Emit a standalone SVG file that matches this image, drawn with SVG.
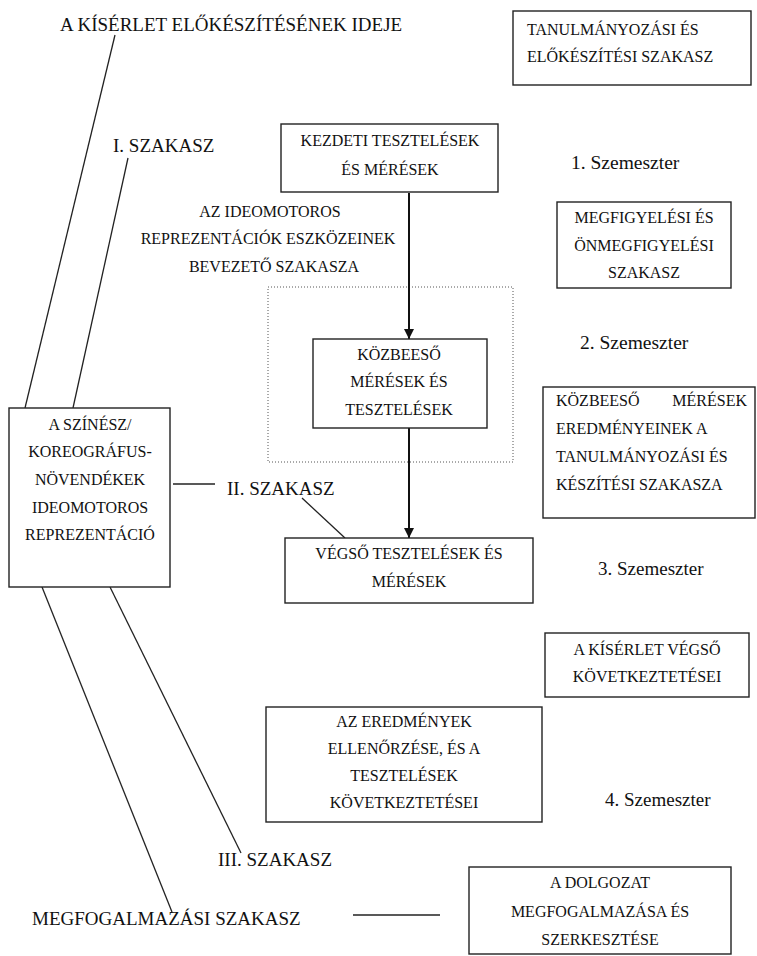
<svg xmlns="http://www.w3.org/2000/svg" width="757" height="956" viewBox="0 0 757 956">
<defs>
<style>
text{font-family:"Liberation Serif","Times New Roman",serif;fill:#111;}
.big{font-size:19px;}
.sem{font-size:19.5px;}
.box{fill:#fff;stroke:#222;stroke-width:1.4;}
.bt{font-size:16px;text-anchor:middle;}
.bl{font-size:16px;}
.ln{stroke:#222;stroke-width:1.3;fill:none;}
.arr{stroke:#111;stroke-width:2;fill:none;}
</style>
<marker id="ah" viewBox="0 0 10 10" refX="10" refY="5" markerWidth="5" markerHeight="5" markerUnits="strokeWidth" orient="auto">
<path d="M0,0 L10,5 L0,10 z" fill="#111"/>
</marker>
</defs>
<rect width="757" height="956" fill="#fff"/>

<g id="labels">
<text class="big" x="60" y="31">A KÍSÉRLET ELŐKÉSZÍTÉSÉNEK IDEJE</text>
<text class="big" x="113" y="152">I. SZAKASZ</text>
<text class="big" x="227" y="495">II. SZAKASZ</text>
<text class="big" x="218" y="866">III. SZAKASZ</text>
<text class="big" x="32" y="925">MEGFOGALMAZÁSI SZAKASZ</text>
<text class="sem" x="571" y="169">1. Szemeszter</text>
<text class="sem" x="580" y="349">2. Szemeszter</text>
<text class="big" x="598" y="575">3. Szemeszter</text>
<text class="big" x="605" y="806">4. Szemeszter</text>
</g>

<g id="ideomotoros-label">
<text class="bt" x="270" y="217">AZ IDEOMOTOROS</text>
<text class="bt" x="268" y="244">REPREZENTÁCIÓK ESZKÖZEINEK</text>
<text class="bt" x="274" y="272">BEVEZETŐ SZAKASZA</text>
</g>

<g id="dotted-frame">
<rect x="268" y="287" width="245" height="175" fill="none" stroke="#555" stroke-width="1" stroke-dasharray="1 2"/>
</g>

<g id="connectors">
<line class="ln" x1="115" y1="35" x2="25" y2="408"/>
<line class="ln" x1="128" y1="158" x2="73" y2="408"/>
<line class="ln" x1="173" y1="484" x2="215" y2="484"/>
<line class="ln" x1="302" y1="498" x2="345" y2="538"/>
<line class="ln" x1="42" y1="587" x2="172" y2="912"/>
<line class="ln" x1="110" y1="587" x2="241" y2="853"/>
<line class="ln" x1="353" y1="915" x2="440" y2="915"/>
<line class="arr" x1="409" y1="193" x2="409" y2="339" marker-end="url(#ah)"/>
<line class="arr" x1="409" y1="428" x2="409" y2="538" marker-end="url(#ah)"/>
</g>

<g id="tanulmanyozasi">
<rect class="box" x="513" y="11" width="238" height="74"/>
<text class="bl" x="527" y="35">TANULMÁNYOZÁSI ÉS</text>
<text class="bl" x="527" y="62">ELŐKÉSZÍTÉSI SZAKASZ</text>
</g>

<g id="kezdeti">
<rect class="box" x="281" y="124" width="217" height="68"/>
<text class="bt" x="390" y="146">KEZDETI TESZTELÉSEK</text>
<text class="bt" x="390" y="175">ÉS MÉRÉSEK</text>
</g>

<g id="megfigyelesi">
<rect class="box" x="557" y="202" width="174" height="86"/>
<text class="bt" x="644" y="223">MEGFIGYELÉSI ÉS</text>
<text class="bt" x="644" y="251">ÖNMEGFIGYELÉSI</text>
<text class="bt" x="644" y="278">SZAKASZ</text>
</g>

<g id="kozbeeso">
<rect class="box" x="313" y="339" width="174" height="89"/>
<text class="bt" x="399" y="360">KÖZBEESŐ</text>
<text class="bt" x="399" y="387">MÉRÉSEK ÉS</text>
<text class="bt" x="399" y="415">TESZTELÉSEK</text>
</g>

<g id="kozbeeso-eredmenyek">
<rect class="box" x="543" y="387" width="212" height="131"/>
<text class="bl" x="556" y="406">KÖZBEESŐ</text>
<text class="bl" x="747" y="406" text-anchor="end">MÉRÉSEK</text>
<text class="bl" x="556" y="434">EREDMÉNYEINEK A</text>
<text class="bl" x="556" y="462">TANULMÁNYOZÁSI ÉS</text>
<text class="bl" x="556" y="490">KÉSZÍTÉSI SZAKASZA</text>
</g>

<g id="szinesz">
<rect class="box" x="9" y="408" width="161" height="179"/>
<text class="bt" x="90" y="430">A SZÍNÉSZ/</text>
<text class="bt" x="90" y="457">KOREOGRÁFUS-</text>
<text class="bt" x="90" y="485">NÖVENDÉKEK</text>
<text class="bt" x="90" y="513">IDEOMOTOROS</text>
<text class="bt" x="90" y="540">REPREZENTÁCIÓ</text>
</g>

<g id="vegso">
<rect class="box" x="285" y="538" width="248" height="65"/>
<text class="bt" x="409" y="559">VÉGSŐ TESZTELÉSEK ÉS</text>
<text class="bt" x="409" y="587">MÉRÉSEK</text>
</g>

<g id="kiserlet-vegso">
<rect class="box" x="545" y="633" width="204" height="64"/>
<text class="bt" x="647" y="655">A KÍSÉRLET VÉGSŐ</text>
<text class="bt" x="647" y="682">KÖVETKEZTETÉSEI</text>
</g>

<g id="eredmenyek">
<rect class="box" x="266" y="707" width="276" height="115"/>
<text class="bt" x="404" y="727">AZ EREDMÉNYEK</text>
<text class="bt" x="404" y="754">ELLENŐRZÉSE, ÉS A</text>
<text class="bt" x="404" y="781">TESZTELÉSEK</text>
<text class="bt" x="404" y="808">KÖVETKEZTETÉSEI</text>
</g>

<g id="dolgozat">
<rect class="box" x="469" y="867" width="262" height="87"/>
<text class="bt" x="600" y="888">A DOLGOZAT</text>
<text class="bt" x="600" y="917">MEGFOGALMAZÁSA ÉS</text>
<text class="bt" x="600" y="945">SZERKESZTÉSE</text>
</g>
</svg>
